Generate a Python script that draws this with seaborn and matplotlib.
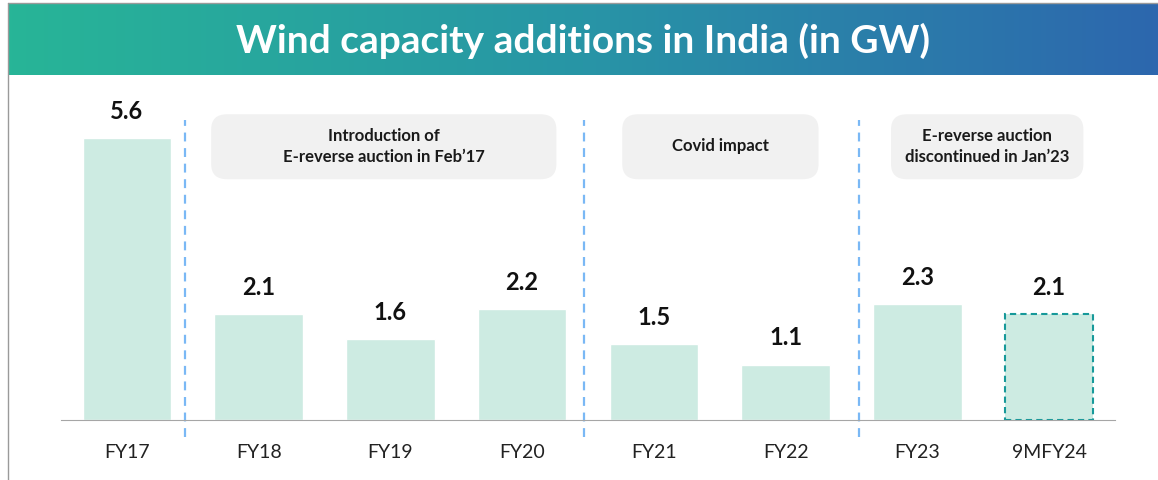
import numpy as np
import pandas as pd
import matplotlib
matplotlib.use("Agg")
import matplotlib.pyplot as plt
import seaborn as sns
from matplotlib.patches import FancyBboxPatch
from matplotlib.colors import LinearSegmentedColormap

# ---------- DATA ----------
years = ["FY17", "FY18", "FY19", "FY20", "FY21", "FY22", "FY23", "9MFY24"]
capacity = [5.6, 2.1, 1.6, 2.2, 1.5, 1.1, 2.3, 2.1]
notes = ["Introduction of\nE-reverse auction in Feb\u201917",
         "Covid impact",
         "E-reverse auction\ndiscontinued in Jan\u201923"]
note_spans = [(0.64, 3.26), (3.76, 5.25), (5.80, 7.26)]
separators = [0.44, 3.47, 5.56]

df = pd.DataFrame({"year": years, "gw": capacity})

sns.set_style("white")
plt.rcParams['font.family'] = ['Lato', 'DejaVu Sans']

fig = plt.figure(figsize=(11.58, 4.8), dpi=100)

# ---------- TITLE BAND ----------
band = fig.add_axes([8 / 1158, 1 - 75 / 480, 1 - 8 / 1158, 72 / 480])
cmap = LinearSegmentedColormap.from_list("band", ["#27b597", "#2895a6", "#2d67ae"])
band.imshow(np.linspace(0, 1, 256).reshape(1, -1), aspect="auto", cmap=cmap)
band.set_axis_off()
band.text(0.5, 0.48, "Wind capacity additions in India (in GW)", color="white",
          fontsize=28, fontweight="bold", ha="center", va="center",
          transform=band.transAxes)

# frame lines
fig.add_artist(plt.Line2D([8 / 1158, 8 / 1158], [0, 1 - 3 / 480],
                          color="#9a9a9a", lw=1, transform=fig.transFigure))
fig.add_artist(plt.Line2D([8 / 1158, 1], [1 - 3 / 480, 1 - 3 / 480],
                          color="#9a9a9a", lw=1, transform=fig.transFigure))

# ---------- BAR CHART ----------
ax = fig.add_axes([61 / 1158, 60 / 480, (1115 - 61) / 1158, 340 / 480])
sns.barplot(data=df, x="year", y="gw", color="#cdebe2", saturation=1,
            width=0.67, ax=ax)

last = ax.patches[-1]
last.set_edgecolor("#17999a")
last.set_linestyle((0, (3, 2)))
last.set_linewidth(1.5)

ymax = 6.75
ax.set_xlim(-0.5, len(years) - 0.5)
ax.set_ylim(0, ymax)

for i, v in enumerate(capacity):
    ax.text(i, v + 0.3, f"{v}", ha="center", va="bottom",
            fontsize=17, fontweight="bold", color="#111111")

for s in separators:
    ax.plot([s, s], [-0.33, 5.95], color="#7ab8f5", lw=1.6,
            ls=(0, (4, 3)), clip_on=False)

for (x0, x1), t in zip(note_spans, notes):
    box = FancyBboxPatch((x0, 4.78), x1 - x0, 1.29,
                         boxstyle="round,pad=0,rounding_size=0.12",
                         mutation_aspect=1 / 0.4,
                         facecolor="#f1f1f1", edgecolor="none")
    ax.add_patch(box)
    ax.text((x0 + x1) / 2, 5.43, t, ha="center", va="center",
            fontsize=12, fontweight="bold", color="#1a1a1a", linespacing=1.45)

for side in ["top", "right", "left"]:
    ax.spines[side].set_visible(False)
ax.spines["bottom"].set_color("#a6a6a6")
ax.set_yticks([])
ax.set_xlabel("")
ax.set_ylabel("")
ax.set_xticks(np.arange(len(years)))
ax.set_xticklabels(years, fontsize=14, color="#222222")
ax.tick_params(axis="x", length=0, pad=17)
ax.set_xticks(np.arange(len(years) + 1) - 0.5, minor=True)
ax.tick_params(axis="x", which="minor", length=10, color="#a6a6a6",
               direction="out")

fig.savefig("out.png", dpi=100)
